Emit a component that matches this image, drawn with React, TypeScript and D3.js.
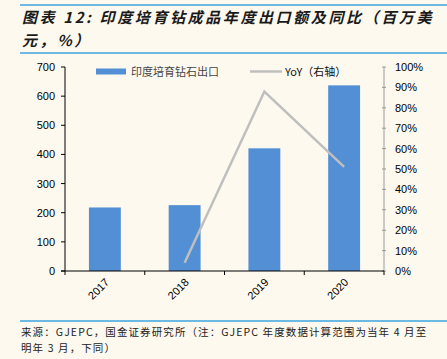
import React from "react";
import * as d3 from "d3";

const categories = ["2017", "2018", "2019", "2020"];
const exportValues = [218, 226, 421, 637];
const yoyValues = [null, 4, 88, 51];
const leftTicks = [0, 100, 200, 300, 400, 500, 600, 700];
const rightTicks = [0, 10, 20, 30, 40, 50, 60, 70, 80, 90, 100];
const barName = "印度培育钻石出口";
const lineName = "YoY（右轴）";
const titleLine1 = "图表 12: 印度培育钻成品年度出口额及同比（百万美";
const titleLine2 = "元，%）";
const footLine1 = "来源：GJEPC，国金证券研究所（注：GJEPC 年度数据计算范围为当年 4 月至";
const footLine2 = "明年 3 月，下同）";

const W = 447;
const H = 359;
const BG = "#fdf9ef";
const BLUE = "#538fd5";
const GRAY = "#bfbfbf";
const FONT = "'Liberation Sans', Arial, sans-serif";
const CJK = "'Noto Sans CJK SC', 'Liberation Sans', sans-serif";

export default function App() {
  const x0 = 65, x1 = 384, yTop = 67, yBot = 271;
  const x = d3.scaleBand<string>().domain(categories).range([x0, x1]).paddingInner(0.6).paddingOuter(0.3);
  const yL = d3.scaleLinear().domain([0, 700]).range([yBot, yTop]);
  const yR = d3.scaleLinear().domain([0, 100]).range([yBot, yTop]);
  const cx = (c: string) => (x(c) ?? 0) + x.bandwidth() / 2;
  const linePts = categories
    .map((c, i) => ({ c, v: yoyValues[i] }))
    .filter((d) => d.v !== null) as { c: string; v: number }[];
  const lineGen = d3.line<{ c: string; v: number }>().x((d) => cx(d.c)).y((d) => yR(d.v));
  const boundaries = d3.range(categories.length + 1).map((i) => x0 + i * (x1 - x0) / categories.length);

  return (
    <svg width={W} height={H} style={{ display: "block", position: "absolute", left: 0, top: 0 }}>
      <rect x={0} y={0} width={W} height={H} fill={BG} />
      <line x1={20} x2={W} y1={5} y2={5} stroke="#3ba3e0" strokeWidth={1.5} />
      <line x1={20} x2={W} y1={53} y2={53} stroke="#3ba3e0" strokeWidth={1.5} />
      <g fontFamily={CJK} fontSize={15} fontStyle="italic" fontWeight="bold" fill="#1a1a1a" letterSpacing={2.6}>
        <text x={22} y={23}>{titleLine1}</text>
        <text x={22} y={46}>{titleLine2}</text>
      </g>

      {categories.map((c, i) => (
        <rect key={c} x={x(c)} y={yL(exportValues[i])} width={x.bandwidth()} height={yBot - yL(exportValues[i])} fill={BLUE} />
      ))}
      <path d={lineGen(linePts) ?? ""} fill="none" stroke={GRAY} strokeWidth={2.5} />

      <line x1={x0} x2={x0} y1={yTop} y2={yBot} stroke="#000" strokeWidth={1} />
      {leftTicks.map((t) => (
        <g key={t}>
          <line x1={x0 - 4} x2={x0} y1={yL(t)} y2={yL(t)} stroke="#000" />
          <text x={55} y={yL(t) + 4} textAnchor="end" fontFamily={FONT} fontSize={11} fill="#000">{t}</text>
        </g>
      ))}
      <line x1={x1} x2={x1} y1={yTop} y2={yBot} stroke="#999" strokeWidth={1} />
      {rightTicks.map((t) => (
        <g key={t}>
          <line x1={x1 - 2} x2={x1 + 2} y1={yR(t)} y2={yR(t)} stroke="#999" />
          <text x={395} y={yR(t) + 4} textAnchor="start" fontFamily={FONT} fontSize={11} fill="#000">{t}%</text>
        </g>
      ))}
      <line x1={x0 - 4} x2={x1} y1={yBot} y2={yBot} stroke="#000" strokeWidth={1} />
      {boundaries.map((b, i) => (
        <line key={i} x1={b} x2={b} y1={yBot} y2={yBot + 4} stroke="#000" />
      ))}
      {categories.map((c) => (
        <text key={c} transform={`translate(${cx(c) + 5},${yBot + 12}) rotate(-45)`} textAnchor="end" fontFamily={FONT} fontSize={11} fill="#000">{c}</text>
      ))}

      <rect x={96} y={68.5} width={30} height={6} fill={BLUE} />
      <text x={131} y={75.5} fontFamily={CJK} fontSize={11} fill="#444">{barName}</text>
      <line x1={250} x2={282} y1={71.5} y2={71.5} stroke={GRAY} strokeWidth={2.5} />
      <text x={285} y={75.5} fontFamily={CJK} fontSize={11} fill="#111">{lineName}</text>

      <line x1={20} x2={W} y1={321} y2={321} stroke="#3ba3e0" strokeWidth={1.5} />
      <g fontFamily={CJK} fontSize={10.5} fill="#222">
        <text x={21} y={336} letterSpacing={1.1}>{footLine1}</text>
        <text x={21} y={352} letterSpacing={1.1}>{footLine2}</text>
      </g>
    </svg>
  );
}
